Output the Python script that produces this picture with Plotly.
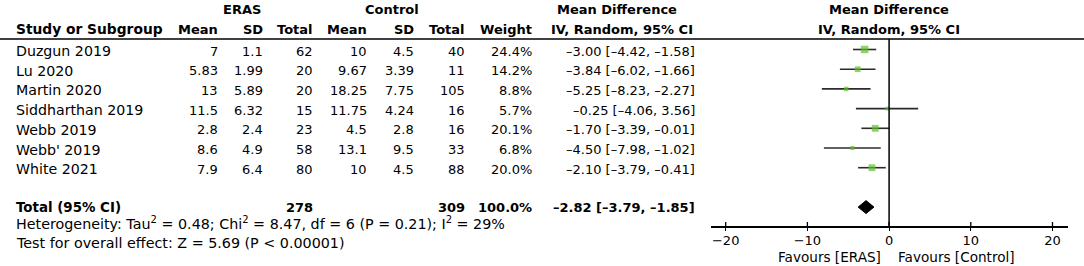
import plotly.graph_objects as go

# ---------------- data ----------------
studies = ["Duzgun 2019", "Lu 2020", "Martin 2020", "Siddharthan 2019",
           "Webb 2019", "Webb' 2019", "White 2021"]
eras_mean = ["7", "5.83", "13", "11.5", "2.8", "8.6", "7.9"]
eras_sd = ["1.1", "1.99", "5.89", "6.32", "2.4", "4.9", "6.4"]
eras_total = ["62", "20", "20", "15", "23", "58", "80"]
ctrl_mean = ["10", "9.67", "18.25", "11.75", "4.5", "13.1", "10"]
ctrl_sd = ["4.5", "3.39", "7.75", "4.24", "2.8", "9.5", "4.5"]
ctrl_total = ["40", "11", "105", "16", "16", "33", "88"]
weights = [24.4, 14.2, 8.8, 5.7, 20.1, 6.8, 20.0]
md = [-3.00, -3.84, -5.25, -0.25, -1.70, -4.50, -2.10]
ci_lo = [-4.42, -6.02, -8.23, -4.06, -3.39, -7.98, -3.79]
ci_hi = [-1.58, -1.66, -2.27, 3.56, -0.01, -1.02, -0.41]

total_eras = "278"
total_ctrl = "309"
total_weight = "100.0%"
pooled_md = -2.82
pooled_lo = -3.79
pooled_hi = -1.85

heterogeneity = "Heterogeneity: Tau<sup>2</sup> = 0.48; Chi<sup>2</sup> = 8.47, df = 6 (P = 0.21); I<sup>2</sup> = 29%"
overall = "Test for overall effect: Z = 5.69 (P < 0.00001)"

tick_vals = [-20, -10, 0, 10, 20]

# ---------------- layout constants ----------------
W, H = 1084, 266
FONT = "DejaVu Sans"
FS = 13
GREEN = "#5cc22a"

ROW0 = 49.5      # pixel y of first study row
ROWH = 19.7      # pixel row height


def px_row(py):
    return (py - ROW0) / ROWH


def px_x(px):
    return px / W


n = len(studies)
rows = list(range(n))
total_row = 8
het_row = px_row(223)
test_row = px_row(242.5)
fav_row = px_row(256.5)
hdr1_row = px_row(9.5)
hdr2_row = px_row(29)
line_row = px_row(39)
axis_row = px_row(226.5)

fig = go.Figure()

# CI whiskers
for i in rows:
    fig.add_trace(go.Scatter(x=[ci_lo[i], ci_hi[i]], y=[i, i], mode="lines",
                             line=dict(color="#2b2b2b", width=1.6),
                             hoverinfo="skip", showlegend=False))

# squares
fig.add_trace(go.Scatter(x=md, y=rows, mode="markers",
                         marker=dict(symbol="square", color=GREEN,
                                     size=[1.52 * w ** 0.5 for w in weights],
                                     line=dict(width=0)),
                         hoverinfo="skip", showlegend=False))

# pooled diamond
dh = 0.33
fig.add_trace(go.Scatter(x=[pooled_lo, pooled_md, pooled_hi, pooled_md, pooled_lo],
                         y=[total_row, total_row - dh, total_row, total_row + dh, total_row],
                         mode="lines", fill="toself", fillcolor="black",
                         line=dict(color="black", width=1),
                         hoverinfo="skip", showlegend=False))

shapes = []
# header rule across the whole width
shapes.append(dict(type="line", xref="paper", yref="y", x0=0, x1=1,
                   y0=line_row, y1=line_row, line=dict(color="black", width=1.5)))
# null line
shapes.append(dict(type="line", xref="x", yref="y", x0=0, x1=0,
                   y0=line_row, y1=axis_row, line=dict(color="black", width=1.5)))
# upper halves of the tick marks
for t in tick_vals:
    shapes.append(dict(type="line", xref="x", yref="y", x0=t, x1=t,
                       y0=axis_row, y1=axis_row - 4.5 / ROWH,
                       line=dict(color="black", width=1.3)))

ann = []


def txt(x_px, y, s, anchor="right", bold=False, yshift=-1.5, size=FS):
    ann.append(dict(x=px_x(x_px), y=y, xref="paper", yref="y", text=(f"<b>{s}</b>" if bold else s),
                    showarrow=False, xanchor=anchor, yanchor="middle", yshift=yshift,
                    font=dict(family=FONT, size=size, color="black")))


# headers
txt(242, hdr1_row, "ERAS", "center", True, 0)
txt(392, hdr1_row, "Control", "center", True, 0)
txt(617, hdr1_row, "Mean Difference", "center", True, 0)
txt(889, hdr1_row, "Mean Difference", "center", True, 0)
txt(14, hdr2_row, "Study or Subgroup", "left", True, 0, 13.8)
txt(220, hdr2_row, "Mean", "right", True, 0)
txt(265, hdr2_row, "SD", "right", True, 0)
txt(315, hdr2_row, "Total", "right", True, 0)
txt(369, hdr2_row, "Mean", "right", True, 0)
txt(416, hdr2_row, "SD", "right", True, 0)
txt(467, hdr2_row, "Total", "right", True, 0)
txt(534, hdr2_row, "Weight", "right", True, 0)
txt(622, hdr2_row, "IV, Random, 95% CI", "center", True, 0)
txt(889, hdr2_row, "IV, Random, 95% CI", "center", True, 0)


def fmt(v):
    return f"{v:.2f}".replace("-", "\u2013")


for i in rows:
    txt(14, i, studies[i], "left", size=14.2)
    txt(220, i, eras_mean[i])
    txt(265, i, eras_sd[i])
    txt(315, i, eras_total[i])
    txt(369, i, ctrl_mean[i])
    txt(416, i, ctrl_sd[i])
    txt(467, i, ctrl_total[i])
    txt(534, i, f"{weights[i]:.1f}%")
    txt(697, i, f"{fmt(md[i])} [{fmt(ci_lo[i])}, {fmt(ci_hi[i])}]")

txt(14, total_row, "Total (95% CI)", "left", True, 0, 13.4)
txt(315, total_row, total_eras, "right", True, 0)
txt(467, total_row, total_ctrl, "right", True, 0)
txt(534, total_row, total_weight, "right", True, 0)
txt(697, total_row, f"{fmt(pooled_md)} [{fmt(pooled_lo)}, {fmt(pooled_hi)}]", "right", True, 0)

txt(14, het_row, heterogeneity, "left", False, 0, 14.3)
txt(14, test_row, overall, "left", False, 0, 14.3)

txt(883, fav_row, "Favours [ERAS]", "right", False, 0, 13.6)
txt(896, fav_row, "Favours [Control]", "left", False, 0, 13.6)

fig.update_layout(
    width=W, height=H,
    margin=dict(l=0, r=0, t=0, b=0),
    paper_bgcolor="white", plot_bgcolor="white",
    showlegend=False,
    shapes=shapes, annotations=ann,
    xaxis=dict(domain=[px_x(711), px_x(1068)], range=[-21.8, 21.9],
               anchor="free", position=1 - 226.5 / H,
               tickvals=tick_vals, ticks="outside", ticklen=4, tickwidth=1.3,
               tickcolor="black", showline=True, linecolor="black", linewidth=1.5,
               showgrid=False, zeroline=False, ticklabelstandoff=-2,
               tickfont=dict(family=FONT, size=FS, color="black"), fixedrange=True),
    yaxis=dict(domain=[0, 1], range=[px_row(H), px_row(0)], visible=False,
               showgrid=False, zeroline=False, fixedrange=True),
)

fig.write_html("out.html", config={"displayModeBar": False},
               post_script="document.body.style.margin='0px';document.body.style.overflow='hidden';")
